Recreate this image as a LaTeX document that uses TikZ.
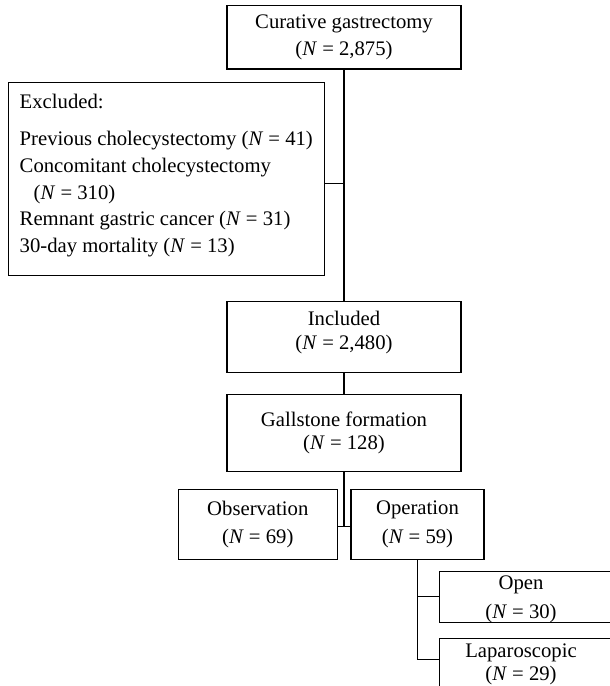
\documentclass[tikz,border=0pt]{standalone}
\usepackage{fontspec}
\setmainfont{Liberation Serif}
\usepackage{tikz}

\begin{document}
\begin{tikzpicture}[x=1pt,y=-1pt,font=\fontsize{20.7}{23.4}\selectfont]
            \useasboundingbox (0,0) rectangle (610,686);
            \clip (0,0) rectangle (610,686);

            \begin{scope}[every node/.style={draw, rectangle, line width=1.1pt, align=center, inner sep=0pt}]
                \node (cur) [minimum width=234pt, minimum height=63.3pt] at (344,37.3) {Curative gastrectomy\\[3.3pt](\textit{N} = 2,875)};
                \node (exc) [minimum width=316pt, minimum height=192.3pt, align=left] at (166.3,178.9) {Excluded:\\[14.3pt]Previous cholecystectomy (\textit{N} = 41)\\[3.3pt]Concomitant cholecystectomy\\[3.3pt]\hspace*{14pt}(\textit{N} = 310)\\[3.3pt]Remnant gastric cancer (\textit{N} = 31)\\[3.3pt]30-day mortality (\textit{N} = 13)\\[-12.1pt]\mbox{}};
                \node (inc) [minimum width=234pt, minimum height=71pt] at (344,337.2) {Included\\(\textit{N} = 2,480)\\[-9.5pt]\mbox{}};
                \node (gal) [minimum width=234pt, minimum height=77.7pt] at (344,432.9) {Gallstone formation\\(\textit{N} = 128)};
                \node (obs) [minimum width=159pt, minimum height=70.3pt] at (257.8,524.2) {Observation\\[4.9pt](\textit{N} = 69)};
                \node (ope) [minimum width=133pt, minimum height=70.3pt] at (417.5,524.2) {Operation\\[4.9pt](\textit{N} = 59)};
                \node (opn) [minimum width=220pt, minimum height=51pt, anchor=north west] at (439.3,570.7) {};
                \node (lap) [minimum width=220pt, minimum height=80pt, anchor=north west] at (439.3,638.3) {};
            \end{scope}

            \begin{scope}[every node/.style={align=center, inner sep=0pt}]
                \node (opntext) at (521,599) {Open\\[5.6pt](\textit{N} = 30)};
                \node (laptext) at (521,664.4) {Laparoscopic\\(\textit{N} = 29)};
            \end{scope}

            \begin{scope}[line width=1.1pt]
                \coordinate (j1) at (344,183.3);
                \coordinate (j2) at (344,526.7);
                \coordinate (j3) at (417.5,659.3);
                \draw (cur.south) -- (inc.north);
                \draw (exc.east |- j1) -- (j1);
                \draw (inc.south) -- (gal.north);
                \draw (gal.south) -- (j2);
                \draw (obs.east |- j2) -- (ope.west |- j2);
                \draw (ope.south) -- (j3) -- (lap.west |- j3);
                \draw (opn.west) -- (opn.west -| j3);
            \end{scope}
        \end{tikzpicture}
\end{document}
